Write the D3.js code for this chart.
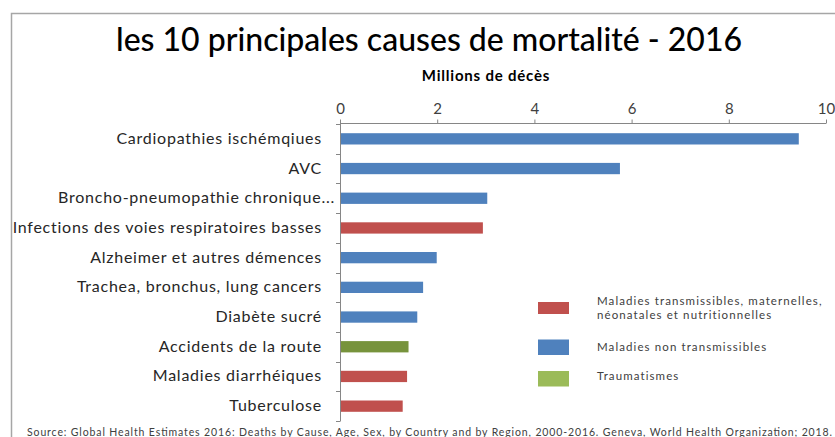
<!DOCTYPE html>
<html>
<head>
<meta charset="utf-8">
<script src="https://cdn.jsdelivr.net/npm/d3@7"></script>
<style>
  html, body { margin: 0; padding: 0; background: #fff; }
  svg { display: block; }
  text { font-family: Lato, "Open Sans", sans-serif; }
</style>
</head>
<body>
<svg id="chart" width="835" height="437"></svg>
<script>
const title = "les 10 principales causes de mortalité - 2016";
const axisTitle = "Millions de décès";
const source = "Source: Global Health Estimates 2016: Deaths by Cause, Age, Sex, by Country and by Region, 2000-2016. Geneva, World Health Organization; 2018.";

const categories = [
  "Cardiopathies ischémqiues",
  "AVC",
  "Broncho-pneumopathie chronique...",
  "Infections des voies respiratoires basses",
  "Alzheimer et autres démences",
  "Trachea, bronchus, lung cancers",
  "Diabète sucré",
  "Accidents de la route",
  "Maladies diarrhéiques",
  "Tuberculose"
];
const values = [9.44, 5.76, 3.03, 2.94, 1.99, 1.71, 1.59, 1.41, 1.38, 1.29];
const groupOf = ["nt", "nt", "nt", "tr", "nt", "nt", "nt", "trauma", "tr", "tr"];
const xTicks = [0, 2, 4, 6, 8, 10];

const groupKeys = ["tr", "nt", "trauma"];
const legendLabels = [
  ["Maladies transmissibles, maternelles,", "néonatales et nutritionnelles"],
  ["Maladies non transmissibles"],
  ["Traumatismes"]
];

const barColor = { tr: "#c0504d", nt: "#4f81bd", trauma: "#77933c" };
const legendColor = { tr: "#c0504d", nt: "#4f81bd", trauma: "#9bbb59" };

const svg = d3.select("#chart");

// frame
svg.append("rect")
  .attr("x", 11.5).attr("y", 13.5)
  .attr("width", 840).attr("height", 440)
  .attr("fill", "none").attr("stroke", "#a6a6a6").attr("stroke-width", 1.5);

const x = d3.scaleLinear().domain([0, 10]).range([340, 826]);
const y = d3.scaleBand().domain(categories).range([124, 421])
  .paddingInner(0.62).paddingOuter(0.31);

// title
svg.append("text")
  .attr("x", 429).attr("y", 51)
  .attr("text-anchor", "middle")
  .attr("font-size", 32).attr("font-weight", 500)
  .attr("fill", "#000")
  .text(title);

svg.append("text")
  .attr("x", 486).attr("y", 81)
  .attr("text-anchor", "middle")
  .attr("font-size", 15).attr("font-weight", 700)
  .attr("letter-spacing", 0.8)
  .attr("fill", "#000")
  .text(axisTitle);

// top axis
const xAxis = d3.axisTop(x).tickValues(xTicks).tickSize(4).tickPadding(6)
  .tickFormat(d3.format("d"));
const gx = svg.append("g").attr("transform", "translate(0,123.5)").call(xAxis);
gx.select(".domain").attr("stroke", "#868686").attr("d", `M${x(0)},0H${x(10)}`);
gx.selectAll(".tick line").attr("stroke", "#868686");
gx.selectAll(".tick text").attr("font-size", 15).attr("fill", "#404040")
  .attr("font-family", "Lato, sans-serif");

// left axis (vertical line with band-boundary ticks)
const gy = svg.append("g");
gy.append("line")
  .attr("x1", x(0) + 0.5).attr("x2", x(0) + 0.5)
  .attr("y1", 123.5).attr("y2", 421)
  .attr("stroke", "#868686");
const step = y.step();
const boundaries = categories.map((c, i) => y(c) - (step - y.bandwidth()) / 2);
boundaries.push(y(categories[categories.length - 1]) + y.bandwidth() + (step - y.bandwidth()) / 2);
gy.selectAll("line.bt").data(boundaries).join("line")
  .attr("class", "bt")
  .attr("x1", x(0) - 4).attr("x2", x(0) + 0.5)
  .attr("y1", d => Math.round(d) + 0.5).attr("y2", d => Math.round(d) + 0.5)
  .attr("stroke", "#868686");

// category labels
svg.selectAll("text.cat").data(categories).join("text")
  .attr("class", "cat")
  .attr("x", d => d.endsWith("...") ? 335 : 322)
  .attr("y", d => y(d) + y.bandwidth() / 2 + 5)
  .attr("text-anchor", "end")
  .attr("font-size", 16)
  .attr("letter-spacing", 0.75)
  .attr("fill", "#262626")
  .text(d => d);

// bars
svg.selectAll("rect.bar").data(categories).join("rect")
  .attr("class", "bar")
  .attr("x", x(0) + 1)
  .attr("y", d => y(d))
  .attr("width", (d, i) => x(values[i]) - x(0) - 1)
  .attr("height", y.bandwidth())
  .attr("fill", (d, i) => barColor[groupOf[i]]);

// legend
const legendY = { tr: [302, 12], nt: [339.5, 15.5], trauma: [371, 15.5] };
const lg = svg.append("g");
groupKeys.forEach((k, i) => {
  lg.append("rect")
    .attr("x", 538).attr("y", legendY[k][0])
    .attr("width", 31).attr("height", legendY[k][1])
    .attr("fill", legendColor[k]);
});
const legendBase = [304.5, 351, 380];
legendLabels.forEach((lines, i) => {
  lines.forEach((ln, j) => {
    lg.append("text")
      .attr("x", 597).attr("y", legendBase[i] + j * 14.5)
      .attr("font-size", 11.5)
      .attr("letter-spacing", 1.1)
      .attr("fill", "#404040")
      .text(ln);
  });
});

// source
svg.append("text")
  .attr("x", 27).attr("y", 436)
  .attr("font-size", 10.5)
  .attr("fill", "#404040")
  .attr("textLength", 805)
  .attr("lengthAdjust", "spacing")
  .text(source);
</script>
</body>
</html>
